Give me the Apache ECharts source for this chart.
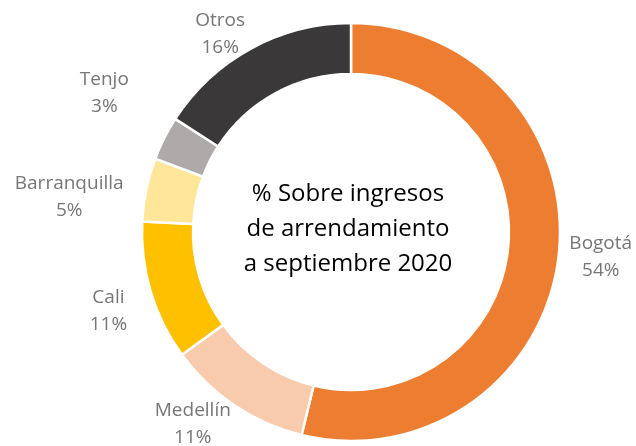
<!DOCTYPE html>
<html>
<head>
<meta charset="utf-8">
<script src="https://cdn.jsdelivr.net/npm/echarts@6/dist/echarts.min.js"></script>
<style>
  html, body { margin: 0; padding: 0; background: #fff; }
  #chart { width: 636px; height: 446px; }
</style>
</head>
<body>
<div id="chart"></div>
<script>
// data
const cities = ["Bogotá", "Medellín", "Cali", "Barranquilla", "Tenjo", "Otros"];
const shares = [53.8, 11.2, 10.8, 4.9, 3.4, 15.9];

// styling
const colors = ["#ED7D31", "#F8CBAD", "#FFC000", "#FFE699", "#AEAAAA", "#3A3838"];
const centerTitle = "% Sobre ingresos\nde arrendamiento\na septiembre 2020";
// label placement around the ring: turn (deg from slice middle) and distance from centre
const labelTurn = [-1.1, 5.6, -1.4, -4.6, 2.7, -4.9];
const labelDist = [251, 249, 255, 284, 283, 237];

const CENTER = [351, 232];
const RADIUS = [158, 209];

const chart = echarts.init(document.getElementById("chart"));

const total = shares.reduce((a, b) => a + b, 0);
const midAngles = [];
let acc = 0;
shares.forEach((v) => {
  midAngles.push(((acc + v / 2) / total) * 360);
  acc += v;
});

chart.setOption({
  animation: false,
  backgroundColor: "#fff",
  color: colors,
  graphic: [
    {
      type: "text",
      x: CENTER[0] - 3,
      y: CENTER[1] - 3,
      style: {
        text: centerTitle,
        fill: "#000",
        font: '24px "Open Sans"',
        lineHeight: 35,
        align: "center",
        verticalAlign: "middle",
      },
    },
  ],
  series: [
    {
      type: "pie",
      center: CENTER,
      radius: RADIUS,
      startAngle: 90,
      clockwise: true,
      avoidLabelOverlap: false,
      itemStyle: { borderColor: "#fff", borderWidth: 2.5 },
      label: {
        show: true,
        position: "outside",
        color: "#767676",
        fontFamily: "Open Sans",
        fontSize: 19,
        lineHeight: 27,
        formatter: (p) => p.name + "\n" + Math.round(p.percent) + "%",
      },
      labelLine: { show: false },
      labelLayout: (params) => {
        const i = params.dataIndex;
        const a = ((midAngles[i] + labelTurn[i]) * Math.PI) / 180;
        return {
          x: CENTER[0] + Math.sin(a) * labelDist[i],
          y: CENTER[1] - Math.cos(a) * labelDist[i],
          align: "center",
          verticalAlign: "middle",
        };
      },
      emphasis: { disabled: true },
      data: cities.map((name, i) => ({ name, value: shares[i] })),
    },
  ],
});
</script>
</body>
</html>
